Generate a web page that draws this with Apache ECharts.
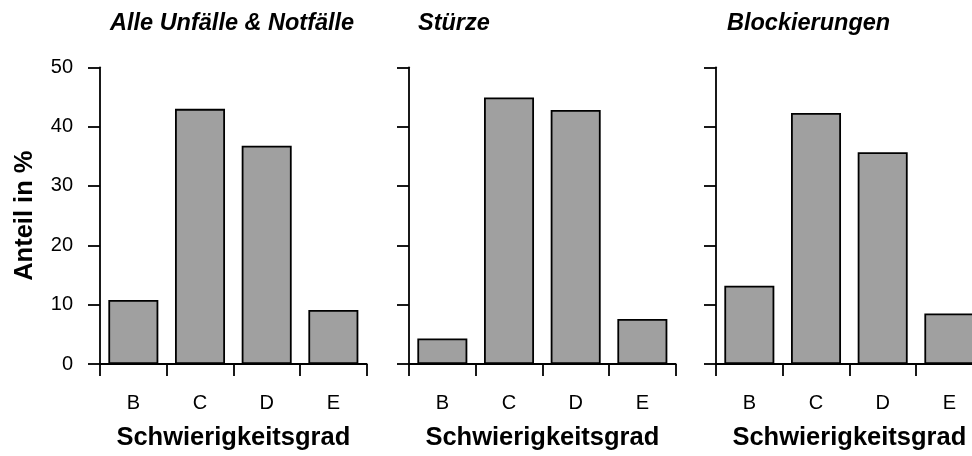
<!DOCTYPE html>
<html>
<head>
<meta charset="utf-8">
<script src="https://cdn.jsdelivr.net/npm/echarts@6/dist/echarts.min.js"></script>
<style>
html,body{margin:0;padding:0;background:#fff;overflow:hidden;width:972px;height:456px;}
#chart{width:990px;height:456px;}
</style>
</head>
<body>
<div id="chart"></div>
<script>
var categories = ['B', 'C', 'D', 'E'];
var panelTitles = ['Alle Unfälle & Notfälle', 'Stürze', 'Blockierungen'];
var valuesAll = [10.8, 43.0, 36.8, 9.1];
var valuesFalls = [4.3, 44.9, 42.8, 7.6];
var valuesBlock = [13.2, 42.3, 35.7, 8.5];
var yTicks = [0, 10, 20, 30, 40, 50];
var xTitle = 'Schwierigkeitsgrad';
var yTitle = 'Anteil in %';

var seriesData = [valuesAll, valuesFalls, valuesBlock];
var FONT = '"Liberation Sans", Arial, sans-serif';
var gridLefts = [100, 409, 716];
var titleLefts = [105, 413, 722];
var PW = 266.7;
var LW = 1.8;

var chart = echarts.init(document.getElementById('chart'), null, {renderer: 'canvas'});

var grids = [], xAxes = [], yAxes = [], series = [], titles = [];
for (var i = 0; i < 3; i++) {
  grids.push({left: gridLefts[i], width: PW, top: 67.3, bottom: 456 - 366.7, containLabel: false});
  titles.push({
    text: panelTitles[i], left: titleLefts[i], top: 7,
    textStyle: {fontFamily: FONT, fontSize: 23.5, fontWeight: 'bold', fontStyle: 'italic', color: '#000'}
  });
  xAxes.push({
    type: 'category', gridIndex: i, data: categories, boundaryGap: true,
    name: xTitle, nameLocation: 'middle', nameGap: 61,
    nameTextStyle: {fontFamily: FONT, fontSize: 25.5, fontWeight: 'bold', color: '#000'},
    axisLine: {show: true, lineStyle: {color: '#000', width: LW}},
    axisTick: {show: true, length: 12, alignWithLabel: false, lineStyle: {color: '#000', width: LW}},
    axisLabel: {show: true, margin: 29, fontFamily: FONT, fontSize: 20, color: '#000'},
    splitLine: {show: false}
  });
  yAxes.push({
    type: 'value', gridIndex: i, min: yTicks[0], max: yTicks[yTicks.length - 1], interval: 10,
    name: i === 0 ? yTitle : '', nameLocation: 'middle', nameGap: 62,
    nameTextStyle: {fontFamily: FONT, fontSize: 25.5, fontWeight: 'bold', color: '#000'},
    axisLine: {show: true, lineStyle: {color: '#000', width: LW}},
    axisTick: {show: true, length: 12, lineStyle: {color: '#000', width: LW}},
    axisLabel: {show: i === 0, margin: 27, fontFamily: FONT, fontSize: 20, color: '#000'},
    splitLine: {show: false}
  });
  series.push({
    type: 'bar', xAxisIndex: i, yAxisIndex: i, data: seriesData[i],
    barWidth: '75%', silent: true,
    itemStyle: {color: '#a0a0a0', borderColor: '#000', borderWidth: LW}
  });
}

chart.setOption({
  animation: false,
  backgroundColor: '#fff',
  title: titles,
  grid: grids,
  xAxis: xAxes,
  yAxis: yAxes,
  series: series
});
</script>
</body>
</html>
